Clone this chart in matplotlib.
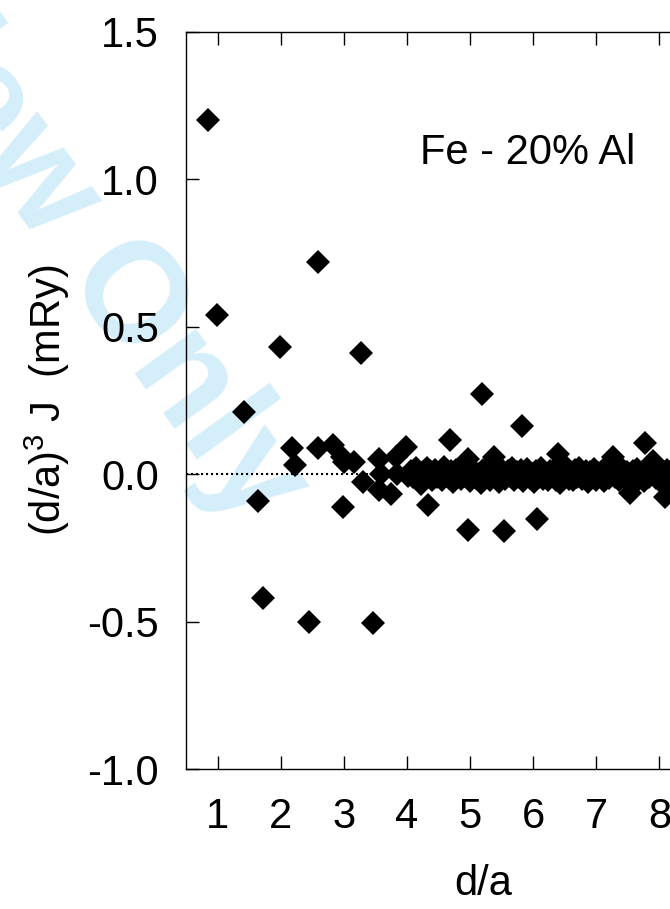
#!/usr/bin/env python3
from __future__ import annotations

import matplotlib
matplotlib.use("Agg")
import matplotlib.pyplot as plt
from matplotlib.ticker import FormatStrFormatter

plt.rcParams['font.family'] = ['Liberation Sans', 'DejaVu Sans']
plt.rcParams['mathtext.fontset'] = 'custom'
plt.rcParams['mathtext.rm'] = 'Liberation Sans'
plt.rcParams['axes.unicode_minus'] = False

# Couplings that stand out from the band
shell_d = [0.85, 0.99, 1.41, 1.64, 1.72, 1.99, 2.17, 2.23, 2.44, 2.59,
           2.59, 2.82, 2.97, 3.00, 2.99, 3.16, 3.27, 3.31, 3.46, 3.56,
           3.59, 3.56, 3.74, 3.83, 3.84, 3.98, 4.02, 4.23, 4.31, 4.33,
           4.68, 4.97, 4.97, 5.19, 5.38, 5.54, 5.82, 6.06, 6.40, 7.26,
           7.54, 7.78, 7.90, 8.09]
shell_j = [1.20, 0.54, 0.21, -0.09, -0.42, 0.43, 0.09, 0.03, -0.50, 0.72,
           0.09, 0.10, 0.06, 0.04, -0.11, 0.04, 0.41, -0.025, -0.505, 0.053,
           0.0, -0.054, -0.067, 0.058, 0.0, 0.091, -0.005, -0.033, 0.023, -0.103,
           0.116, 0.051, -0.188, 0.272, 0.057, -0.191, 0.162, -0.151, 0.068, 0.059,
           -0.065, 0.105, 0.046, -0.078]

# Dense band of small couplings at larger distances
band_d = [4.06, 4.10, 4.14, 4.18, 4.21, 4.26, 4.29, 4.36, 4.40, 4.44,
          4.48, 4.52, 4.55, 4.58, 4.62, 4.66, 4.70, 4.73, 4.77, 4.81,
          4.85, 4.88, 4.92, 4.95, 5.00, 5.03, 5.07, 5.10, 5.14, 5.17,
          5.21, 5.24, 5.28, 5.31, 5.35, 5.39, 5.42, 5.46, 5.49, 5.53,
          5.56, 5.60, 5.63, 5.67, 5.70, 5.74, 5.77, 5.81, 5.84, 5.88,
          5.91, 5.95, 5.98, 6.02, 6.05, 6.09, 6.12, 6.16, 6.19, 6.23,
          6.26, 6.29, 6.33, 6.36, 6.40, 6.43, 6.46, 6.50, 6.53, 6.57,
          6.60, 6.63, 6.67, 6.70, 6.73, 6.77, 6.80, 6.83, 6.87, 6.90,
          6.93, 6.97, 7.00, 7.03, 7.07, 7.10, 7.13, 7.17, 7.20, 7.23,
          7.29, 7.32, 7.36, 7.39, 7.42, 7.46, 7.49, 7.52, 7.58, 7.61,
          7.65, 7.68, 7.71, 7.75, 7.81, 7.84, 7.87, 7.94, 7.97, 8.00,
          8.04, 8.07, 8.12, 8.15, 8.18, 8.21, 8.24, 8.28, 8.32, 8.36]
band_j = [0.012, -0.010, 0.020, 0.000, -0.015, 0.008, -0.005, 0.010, -0.018, 0.015,
          -0.008, 0.005, -0.020, 0.025, 0.000, -0.012, 0.010, -0.025, 0.015, 0.000,
          -0.015, 0.012, -0.005, 0.018, -0.022, 0.005, 0.010, -0.012, 0.002, -0.028,
          0.015, -0.008, 0.020, -0.018, 0.005, -0.010, 0.012, -0.025, 0.018, 0.000,
          -0.015, 0.010, -0.005, 0.022, -0.020, 0.008, -0.010, 0.015, -0.022, 0.005,
          0.018, -0.012, 0.000, -0.025, 0.012, -0.008, 0.020, -0.015, 0.005, -0.020,
          0.010, -0.005, 0.015, -0.018, 0.002, -0.028, 0.012, -0.010, 0.020, -0.015,
          0.005, -0.020, 0.015, -0.008, 0.022, -0.015, 0.000, 0.012, -0.025, 0.008,
          -0.010, 0.018, -0.018, 0.005, -0.005, 0.015, -0.022, 0.010, -0.012, 0.020,
          -0.008, 0.012, -0.020, 0.005, 0.015, -0.012, 0.008, -0.025, 0.010, -0.005,
          0.018, -0.015, 0.005, -0.022, 0.012, -0.008, 0.020, -0.012, 0.008, -0.020,
          0.010, -0.005, 0.015, -0.015, 0.005, 0.018, -0.010, 0.012, -0.008, 0.005]

x_ticks = [1, 2, 3, 4, 5, 6, 7, 8, 9]
y_ticks = [-1.0, -0.5, 0.0, 0.5, 1.0, 1.5]


def main() -> int:
    fig = plt.figure(figsize=(6.7, 9.09), dpi=100)
    # the frame runs past the right edge of the picture, as in the original
    ax = fig.add_axes([0.2778, 0.1535, 0.8947, 0.8118])

    # watermark sits behind everything
    ax.text(-0.072, 0.934, 'For Review Only', transform=fig.transFigure,
            fontsize=102, fontweight='bold', color='#d4eefa', rotation=-54,
            rotation_mode='anchor', ha='center', va='center', zorder=0.5)

    ax.axhline(0.0, color='k', lw=1.5, ls=(0, (1.0, 1.4)), zorder=1)
    ax.plot(band_d, band_j, ls='none', marker='D', ms=12, mew=0, color='k', zorder=3)
    ax.plot(shell_d, shell_j, ls='none', marker='D', ms=12, mew=0, color='k', zorder=3)

    ax.set_xlim(0.5, 10)
    ax.set_ylim(-1.0, 1.5)
    ax.set_xticks(x_ticks)
    ax.set_yticks(y_ticks)
    ax.yaxis.set_major_formatter(FormatStrFormatter('%.1f'))
    ax.tick_params(direction='in', length=9.4, width=1.0, top=True, right=True,
                   labelsize=30, pad=19.5)
    for sp in ax.spines.values():
        sp.set_linewidth(1.0)

    ax.text(4.21, 1.051, 'Fe - 20% Al', fontsize=30, ha='left', va='baseline')

    fig.text(47.5 / 670, 1 - 400 / 909, r'(d/a)$^{\rm 3}$ J  (mRy)', fontsize=30,
             rotation=90, ha='center', va='center')
    fig.text(483 / 670, 1 - 884 / 909, 'd/a', fontsize=30, ha='center', va='center')

    fig.savefig('out.png', dpi=100)
    return 0


if __name__ == "__main__":
    raise SystemExit(main())
